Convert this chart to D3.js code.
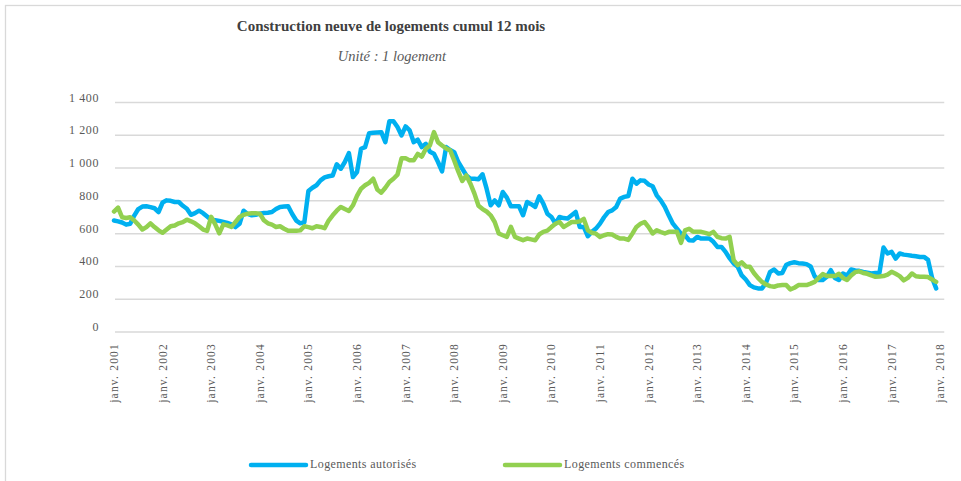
<!DOCTYPE html>
<html lang="fr">
<head>
<meta charset="utf-8">
<script src="https://cdn.jsdelivr.net/npm/d3@7"></script>
<style>
  html, body { margin: 0; padding: 0; background: #fff; }
  svg { display: block; font-family: "Liberation Serif", "DejaVu Serif", serif; }
</style>
</head>
<body>
<svg id="chart" width="961" height="481"></svg>
<script>
// Monthly values, Jan 2001 -> Dec 2017 (12-month rolling sum)
const startYear = 2001;
const tickYears = [2001, 2002, 2003, 2004, 2005, 2006, 2007, 2008, 2009,
  2010, 2011, 2012, 2013, 2014, 2015, 2016, 2017, 2018];
const yTicks = [0, 200, 400, 600, 800, 1000, 1200, 1400];

const autorises = [
  680, 675, 668, 655, 660, 710, 750, 765, 767, 762, 755, 732,   // 2001
  790, 803, 800, 793, 793, 770, 752, 715, 725, 740, 725, 705,   // 2002
  685, 682, 678, 672, 665, 657, 640, 660, 740, 720, 712, 715,   // 2003
  722, 726, 728, 732, 750, 763, 765, 767, 720, 680, 663, 670,   // 2004
  860, 880, 895, 925, 943, 950, 955, 1023, 996, 1037, 1091, 945, // 2005
  976, 1118, 1128, 1213, 1215, 1217, 1219, 1158, 1286, 1286, 1250, 1199, // 2006
  1254, 1230, 1158, 1173, 1128, 1148, 1100, 1087, 1037, 980, 1128, 1110, // 2007
  1097, 1037, 996, 955, 935, 935, 932, 962, 874, 773, 803, 773, // 2008
  854, 820, 767, 767, 767, 712, 793, 780, 763, 828, 783, 722,   // 2009
  702, 661, 702, 695, 692, 712, 732, 641, 641, 584, 611, 631,   // 2010
  661, 700, 732, 742, 763, 814, 824, 830, 935, 905, 925, 922,   // 2011
  900, 889, 834, 803, 763, 710, 661, 631, 600, 590, 560, 558,   // 2012
  580, 570, 570, 570, 550, 519, 519, 489, 450, 418, 398, 345,   // 2013
  320, 286, 272, 266, 266, 300, 367, 381, 357, 360, 410, 420,   // 2014
  425, 420, 418, 414, 400, 340, 317, 317, 337, 377, 330, 317,   // 2015
  357, 345, 381, 375, 373, 367, 362, 357, 360, 360, 515, 479,   // 2016
  489, 448, 479, 472, 469, 465, 462, 458, 458, 440, 330, 266    // 2017
];

const commences = [
  735, 759, 700, 695, 700, 680, 655, 625, 640, 663, 640, 620,   // 2001
  605, 625, 645, 650, 663, 670, 685, 675, 663, 645, 625, 617,   // 2002
  702, 657, 602, 657, 650, 641, 671, 702, 715, 722, 725, 724,   // 2003
  722, 682, 663, 655, 641, 645, 630, 617, 617, 617, 620, 645,   // 2004
  640, 633, 645, 641, 633, 680, 712, 740, 763, 750, 738, 773,   // 2005
  830, 874, 895, 910, 935, 870, 850, 880, 915, 935, 960, 1060,  // 2006
  1060, 1047, 1047, 1087, 1070, 1118, 1138, 1219, 1158, 1138, 1120, 1108, // 2007
  1047, 980, 921, 955, 905, 844, 770, 750, 735, 712, 671, 601,  // 2008
  590, 580, 641, 580, 570, 560, 570, 565, 560, 595, 611, 618,   // 2009
  640, 660, 671, 641, 655, 671, 671, 675, 690, 620, 605, 600,   // 2010
  580, 590, 597, 595, 580, 570, 570, 562, 600, 641, 660, 671,   // 2011
  640, 601, 621, 610, 601, 611, 611, 611, 544, 620, 630, 611,   // 2012
  611, 611, 605, 597, 611, 580, 572, 570, 580, 438, 408, 425,   // 2013
  400, 398, 360, 330, 305, 290, 280, 276, 284, 286, 286, 260,   // 2014
  270, 286, 286, 286, 295, 306, 330, 353, 341, 341, 341, 355,   // 2015
  330, 317, 345, 365, 370, 360, 355, 345, 337, 338, 341, 350,   // 2016
  367, 355, 341, 315, 330, 357, 340, 337, 337, 335, 320, 306    // 2017
];

const seriesNames = ['Logements autorisés', 'Logements commencés'];
const seriesColors = ['#00b0f0', '#92d050'];

const svg = d3.select('#chart');

// Outer frame
svg.append('rect')
  .attr('x', 5.5)
  .attr('y', 5.5)
  .attr('width', 1000)
  .attr('height', 520)
  .attr('fill', 'none')
  .attr('stroke', '#d9d9d9')
  .attr('stroke-width', 1.3);

// Scales: month index from Jan 2001
const xScale = d3.scaleLinear()
  .domain([0, 204])
  .range([114, 940.2]);

const yScale = d3.scaleLinear()
  .domain([0, 1400])
  .range([332, 102.5]);

const plotLeft = xScale(0) + 1;
const plotRight = xScale(205);

// Gridlines
svg.append('g')
  .selectAll('line')
  .data(yTicks)
  .join('line')
  .attr('x1', plotLeft)
  .attr('x2', plotRight)
  .attr('y1', d => yScale(d))
  .attr('y2', d => yScale(d))
  .attr('stroke', '#d9d9d9')
  .attr('stroke-width', 1.5);

// Y labels, space as thousands separator
const fmt = d => d >= 1000 ? Math.floor(d / 1000) + '\u00a0' + String(d % 1000).padStart(3, '0') : String(d);
svg.append('g')
  .selectAll('text')
  .data(yTicks)
  .join('text')
  .attr('x', 99)
  .attr('y', d => yScale(d) - 1)
  .attr('text-anchor', 'end')
  .style('font-size', '12px')
  .style('letter-spacing', '0.6px')
  .style('fill', '#595959')
  .text(fmt);

// X labels (rotated)
svg.append('g')
  .selectAll('text')
  .data(tickYears)
  .join('text')
  .attr('transform', d => `translate(${xScale((d - startYear) * 12) + 4},343) rotate(-90)`)
  .attr('text-anchor', 'end')
  .style('font-size', '11.5px')
  .style('letter-spacing', '1.2px')
  .style('fill', '#595959')
  .text(d => 'janv. ' + d);

// Lines
const line = d3.line()
  .x((d, i) => xScale(i))
  .y(d => yScale(d));

[autorises, commences].forEach((values, k) => {
  svg.append('path')
    .datum(values)
    .attr('d', line)
    .attr('fill', 'none')
    .attr('stroke', seriesColors[k])
    .attr('stroke-width', 4.5)
    .attr('stroke-linejoin', 'round')
    .attr('stroke-linecap', 'round');
});

// Title
svg.append('text')
  .attr('x', 391)
  .attr('y', 31)
  .attr('text-anchor', 'middle')
  .style('font-size', '15px')
  .style('font-weight', 'bold')
  .style('fill', '#404040')
  .text('Construction neuve de logements cumul 12 mois');

svg.append('text')
  .attr('x', 392)
  .attr('y', 61)
  .attr('text-anchor', 'middle')
  .style('font-size', '14.5px')
  .style('font-style', 'italic')
  .style('fill', '#595959')
  .text('Unité : 1 logement');

// Legend
const legendX = [251, 505];
seriesNames.forEach((name, k) => {
  const g = svg.append('g').attr('transform', `translate(${legendX[k]},465)`);
  g.append('line')
    .attr('x1', 0)
    .attr('x2', 55)
    .attr('stroke', seriesColors[k])
    .attr('stroke-width', 4.5)
    .attr('stroke-linecap', 'round');
  g.append('text')
    .attr('x', 59)
    .attr('y', 3)
    .style('font-size', '12px')
    .style('letter-spacing', '0.4px')
    .style('fill', '#595959')
    .text(name);
});
</script>
</body>
</html>
